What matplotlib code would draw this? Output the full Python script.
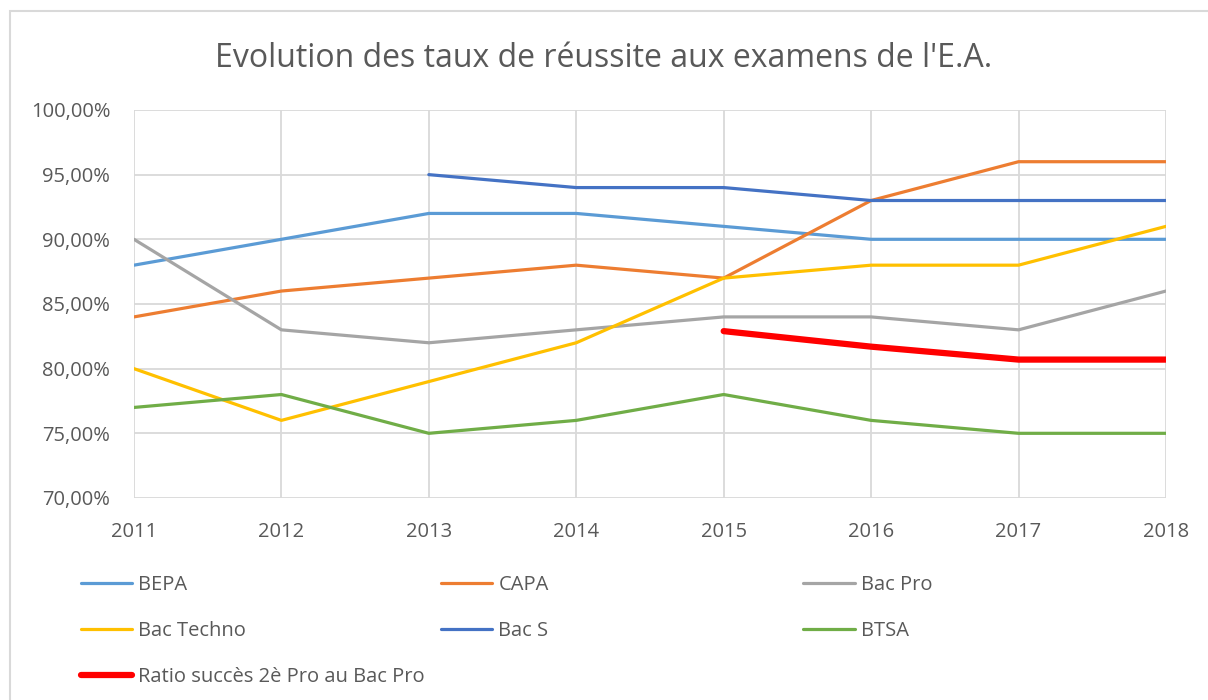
#!/usr/bin/env python3
import matplotlib
matplotlib.use('Agg')
import matplotlib.pyplot as plt
from matplotlib.patches import Rectangle
from matplotlib.ticker import FuncFormatter, MultipleLocator
import numpy as np

# data
years = [2011, 2012, 2013, 2014, 2015, 2016, 2017, 2018]
bepa = [88, 90, 92, 92, 91, 90, 90, 90]
capa = [84, 86, 87, 88, 87, 93, 96, 96]
bac_pro = [90, 83, 82, 83, 84, 84, 83, 86]
bac_techno = [80, 76, 79, 82, 87, 88, 88, 91]
bac_s = [np.nan, np.nan, 95, 94, 94, 93, 93, 93]
btsa = [77, 78, 75, 76, 78, 76, 75, 75]
ratio = [np.nan, np.nan, np.nan, np.nan, 82.9, 81.7, 80.7, 80.7]

plt.rcParams['font.family'] = ['Open Sans', 'DejaVu Sans']
txt = '#595959'

fig = plt.figure(figsize=(12.08, 7), dpi=100)
ax = fig.add_axes([0.1109, 0.2886, 0.8543, 0.5543])

series = [
    ("BEPA", bepa, '#5B9BD5', 2.3),
    ("CAPA", capa, '#ED7D31', 2.3),
    ("Bac Pro", bac_pro, '#A5A5A5', 2.3),
    ("Bac Techno", bac_techno, '#FFC000', 2.3),
    ("Bac S", bac_s, '#4472C4', 2.3),
    ("BTSA", btsa, '#70AD47', 2.3),
    ("Ratio succès 2è Pro au Bac Pro", ratio, '#FF0000', 4.5),
]
handles = {}
for name, vals, col, lw in series:
    h, = ax.plot(years, vals, color=col, lw=lw, solid_capstyle='round', label=name, zorder=3)
    handles[name] = h

ax.set_xlim(2011, 2018)
ax.set_ylim(70, 100)
ax.yaxis.set_major_locator(MultipleLocator(5))
ax.set_xticks(years)
ax.yaxis.set_major_formatter(FuncFormatter(lambda v, p: f"{v:.2f}".replace('.', ',') + '%'))
ax.grid(True, color='#D9D9D9', lw=1.3, zorder=0)
for s in ax.spines.values():
    s.set_visible(False)
ax.tick_params(length=0, labelsize=14.5, colors=txt)
ax.tick_params(axis='y', pad=17)
ax.tick_params(axis='x', pad=17.5)

fig.text(0.5, 0.917, "Evolution des taux de réussite aux examens de l'E.A.",
         ha='center', va='center', fontsize=23, color=txt)

# legend, one block per column
cols = [["BEPA", "Bac Techno", "Ratio succès 2è Pro au Bac Pro"],
        ["CAPA", "Bac S"],
        ["Bac Pro", "BTSA"]]
xs = [0.067, 0.365, 0.665]
for names, x in zip(cols, xs):
    leg = fig.legend([handles[n] for n in names], names, loc='upper left',
                     bbox_to_anchor=(x, 0.178), frameon=False, fontsize=14.5,
                     handlelength=2.55, handletextpad=0.3, labelspacing=1.28,
                     borderaxespad=0, borderpad=0)
    for t in leg.get_texts():
        t.set_color(txt)

fig.patches.append(Rectangle((0.008, -0.1), 1.1, 1.085, transform=fig.transFigure,
                             fill=False, edgecolor='#D9D9D9', lw=1.5))

plt.savefig("out.png", dpi=100)
